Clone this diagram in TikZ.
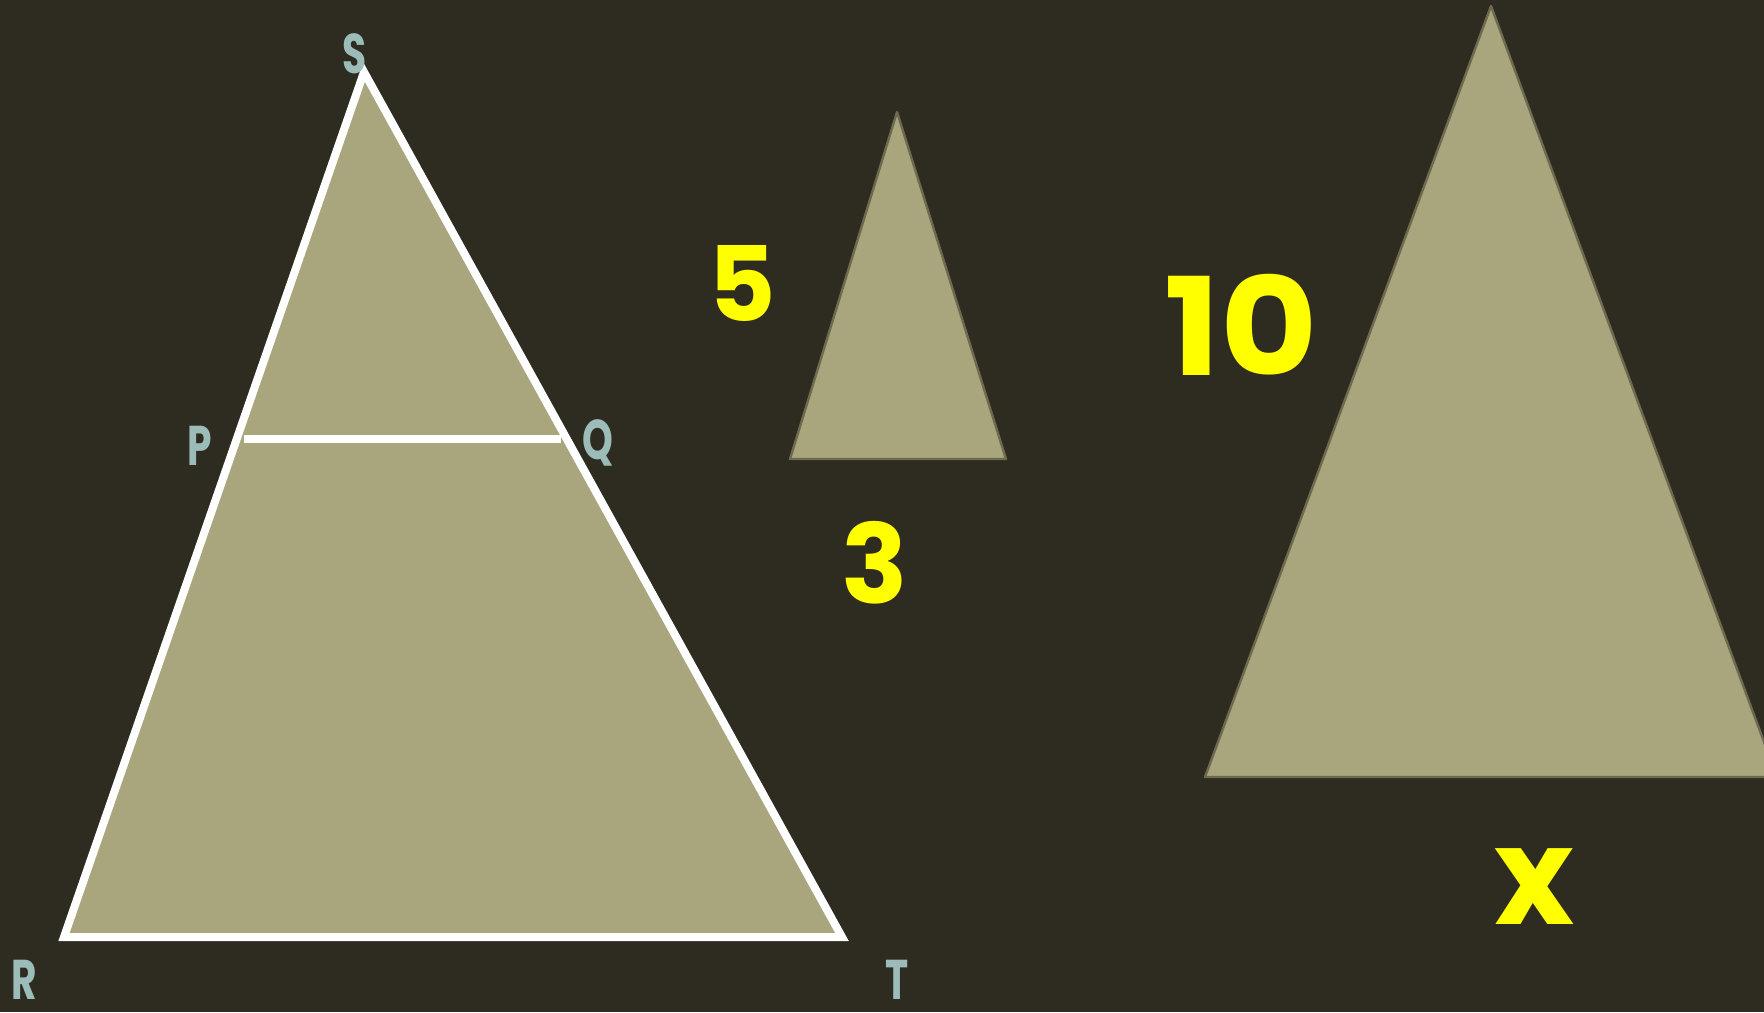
\documentclass[tikz,border=0pt]{standalone}
\usepackage{fontspec}
\setmainfont{Poppins}
\usetikzlibrary{positioning}
\definecolor{bgdark}{HTML}{2E2B20}
\definecolor{tanfill}{HTML}{A9A67D}
\definecolor{edgeolive}{HTML}{6E6A50}
\definecolor{labelteal}{HTML}{9BBCB8}
\definecolor{puryellow}{HTML}{FFFF00}
\tikzstyle{vertex} = [text=labelteal, inner sep=0pt, font=\bfseries\fontsize{28}{28}\selectfont]
\tikzstyle{measure} = [text=puryellow, inner sep=0pt, font=\bfseries\fontsize{60}{60}\selectfont]
\tikzstyle{bigtri} = [fill=tanfill, draw=white, line width=4pt]
\tikzstyle{simtri} = [fill=tanfill, draw=edgeolive, line width=1.2pt, line join=round]
\newcommand{\narrow}[1]{\scalebox{0.7}[1]{#1}}

\begin{document}
\begin{tikzpicture}[x=0.5pt, y=-0.5pt]

\fill[bgdark] (0,0) rectangle (1764,1012);
\clip (0,0) rectangle (1764,1012);

% big triangle SRT with PQ
\coordinate (S) at (364,72);
\coordinate (R) at (64,937);
\coordinate (T) at (842,937);
\coordinate (P) at (244,439);
\coordinate (Q) at (561,439);
\draw [bigtri] (S) -- (R) -- (T) -- cycle;
\draw [white, line width=4pt] (P) -- (Q);

\node (lblS) [vertex] at (355,54) {\narrow{S}};
\node (lblP) [vertex] at (200,446) {\narrow{P}};
\node (lblQ) [vertex] at (598,443) {\narrow{Q}};
\node (lblR) [vertex] at (24,980) {\narrow{R}};
\node (lblT) [vertex] at (897,980) {\narrow{T}};

% small triangle
\coordinate (smallA) at (897,112);
\coordinate (smallB) at (790,459);
\coordinate (smallC) at (1006,459);
\draw [simtri] (smallA) -- (smallB) -- (smallC) -- cycle;
\node (five) [measure, font=\bfseries\fontsize{52}{52}\selectfont] at (742,283) {5};
\node (three) [measure, font=\bfseries\fontsize{55}{55}\selectfont] at (875,563) {3};

% large triangle
\coordinate (largeA) at (1491,6);
\coordinate (largeB) at (1205,777);
\coordinate (largeC) at (1777,777);
\draw [simtri] (largeA) -- (largeB) -- (largeC) -- cycle;
\node (ten) [measure, font=\bfseries\fontsize{68}{68}\selectfont] at (1241,325) {\scalebox{1.1}[1]{10}};
\node (unknown) [measure, font=\bfseries\fontsize{68}{68}\selectfont] at (1534,887) {x};

\end{tikzpicture}
\end{document}
